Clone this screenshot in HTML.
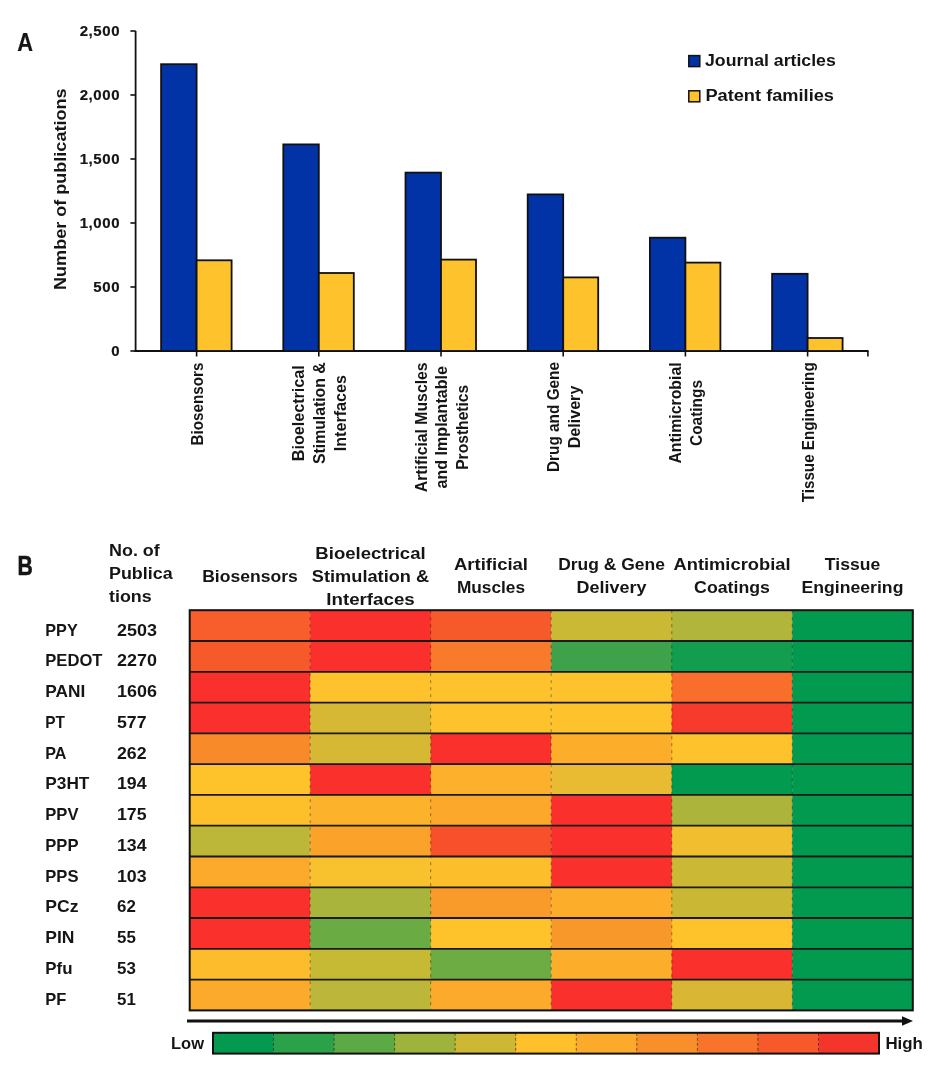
<!DOCTYPE html>
<html><head><meta charset="utf-8"><style>
html,body{margin:0;padding:0;background:#fff;width:936px;height:1066px;overflow:hidden}
svg{display:block}
text{font-family:"Liberation Sans", sans-serif;font-weight:bold;fill:#151515}
svg{will-change:transform}
</style></head><body>
<svg width="936" height="1066" viewBox="0 0 936 1066">

<text x="17.2" y="51" style="font-size:26.5px;stroke:#151515;stroke-width:0.2px" textLength="15.8" lengthAdjust="spacingAndGlyphs">A</text>
<line x1="135.6" y1="31.0" x2="135.6" y2="352.0" stroke="#111" stroke-width="1.8"/>
<line x1="130.4" y1="351.0" x2="135.6" y2="351.0" stroke="#111" stroke-width="1.6"/>
<text x="120.2" y="355.8" text-anchor="end" style="font-size:15px;letter-spacing:0.6px;stroke:#151515;stroke-width:0.2px">0</text>
<line x1="130.4" y1="287.0" x2="135.6" y2="287.0" stroke="#111" stroke-width="1.6"/>
<text x="120.2" y="291.8" text-anchor="end" style="font-size:15px;letter-spacing:0.6px;stroke:#151515;stroke-width:0.2px">500</text>
<line x1="130.4" y1="223.0" x2="135.6" y2="223.0" stroke="#111" stroke-width="1.6"/>
<text x="120.2" y="227.8" text-anchor="end" style="font-size:15px;letter-spacing:0.6px;stroke:#151515;stroke-width:0.2px">1,000</text>
<line x1="130.4" y1="159.0" x2="135.6" y2="159.0" stroke="#111" stroke-width="1.6"/>
<text x="120.2" y="163.8" text-anchor="end" style="font-size:15px;letter-spacing:0.6px;stroke:#151515;stroke-width:0.2px">1,500</text>
<line x1="130.4" y1="95.0" x2="135.6" y2="95.0" stroke="#111" stroke-width="1.6"/>
<text x="120.2" y="99.8" text-anchor="end" style="font-size:15px;letter-spacing:0.6px;stroke:#151515;stroke-width:0.2px">2,000</text>
<line x1="130.4" y1="31.0" x2="135.6" y2="31.0" stroke="#111" stroke-width="1.6"/>
<text x="120.2" y="35.8" text-anchor="end" style="font-size:15px;letter-spacing:0.6px;stroke:#151515;stroke-width:0.2px">2,500</text>
<line x1="134.6" y1="351.0" x2="868.5" y2="351.0" stroke="#111" stroke-width="1.8"/>
<line x1="196.6" y1="351.0" x2="196.6" y2="356.5" stroke="#111" stroke-width="1.6"/>
<line x1="318.8" y1="351.0" x2="318.8" y2="356.5" stroke="#111" stroke-width="1.6"/>
<line x1="441.0" y1="351.0" x2="441.0" y2="356.5" stroke="#111" stroke-width="1.6"/>
<line x1="563.2" y1="351.0" x2="563.2" y2="356.5" stroke="#111" stroke-width="1.6"/>
<line x1="685.4" y1="351.0" x2="685.4" y2="356.5" stroke="#111" stroke-width="1.6"/>
<line x1="807.6" y1="351.0" x2="807.6" y2="356.5" stroke="#111" stroke-width="1.6"/>
<line x1="867.9" y1="351.0" x2="867.9" y2="356.5" stroke="#111" stroke-width="1.6"/>
<rect x="161.1" y="64.2" width="35.5" height="286.8" fill="#0233A6" stroke="#111" stroke-width="1.8"/>
<rect x="196.6" y="260.3" width="35" height="90.7" fill="#FEC22D" stroke="#111" stroke-width="1.8"/>
<rect x="283.3" y="144.4" width="35.5" height="206.6" fill="#0233A6" stroke="#111" stroke-width="1.8"/>
<rect x="318.8" y="273.0" width="35" height="78.0" fill="#FEC22D" stroke="#111" stroke-width="1.8"/>
<rect x="405.5" y="172.6" width="35.5" height="178.4" fill="#0233A6" stroke="#111" stroke-width="1.8"/>
<rect x="441.0" y="259.6" width="35" height="91.4" fill="#FEC22D" stroke="#111" stroke-width="1.8"/>
<rect x="527.7" y="194.4" width="35.5" height="156.6" fill="#0233A6" stroke="#111" stroke-width="1.8"/>
<rect x="563.2" y="277.4" width="35" height="73.6" fill="#FEC22D" stroke="#111" stroke-width="1.8"/>
<rect x="649.9" y="237.7" width="35.5" height="113.3" fill="#0233A6" stroke="#111" stroke-width="1.8"/>
<rect x="685.4" y="262.6" width="35" height="88.4" fill="#FEC22D" stroke="#111" stroke-width="1.8"/>
<rect x="772.1" y="273.8" width="35.5" height="77.2" fill="#0233A6" stroke="#111" stroke-width="1.8"/>
<rect x="807.6" y="338.0" width="35" height="13.0" fill="#FEC22D" stroke="#111" stroke-width="1.8"/>
<text transform="translate(65.8,189.2) rotate(-90)" text-anchor="middle" style="font-size:17px" textLength="201.5" lengthAdjust="spacingAndGlyphs">Number of publications</text>
<rect x="688.8" y="55.6" width="11" height="11" fill="#0233A6" stroke="#111" stroke-width="1.5"/>
<rect x="688.8" y="90.8" width="11" height="11" fill="#FEC22D" stroke="#111" stroke-width="1.5"/>
<text x="705" y="66.3" style="font-size:16.8px" textLength="130.8" lengthAdjust="spacingAndGlyphs">Journal articles</text>
<text x="705.4" y="100.8" style="font-size:16.8px" textLength="128.6" lengthAdjust="spacingAndGlyphs">Patent families</text>
<text transform="translate(202.9,404.0) rotate(-90)" text-anchor="middle" style="font-size:17px" textLength="82.8" lengthAdjust="spacingAndGlyphs">Biosensors</text>
<text transform="translate(304.4,413.2) rotate(-90)" text-anchor="middle" style="font-size:17px" textLength="96" lengthAdjust="spacingAndGlyphs">Bioelectrical</text>
<text transform="translate(325.1,413.2) rotate(-90)" text-anchor="middle" style="font-size:17px" textLength="101.4" lengthAdjust="spacingAndGlyphs">Stimulation &amp;</text>
<text transform="translate(345.8,413.2) rotate(-90)" text-anchor="middle" style="font-size:17px" textLength="76.2" lengthAdjust="spacingAndGlyphs">Interfaces</text>
<text transform="translate(426.6,427.3) rotate(-90)" text-anchor="middle" style="font-size:17px" textLength="129.8" lengthAdjust="spacingAndGlyphs">Artificial Muscles</text>
<text transform="translate(447.3,427.3) rotate(-90)" text-anchor="middle" style="font-size:17px" textLength="122.5" lengthAdjust="spacingAndGlyphs">and Implantable</text>
<text transform="translate(468.0,427.3) rotate(-90)" text-anchor="middle" style="font-size:17px" textLength="85.1" lengthAdjust="spacingAndGlyphs">Prosthetics</text>
<text transform="translate(559.1,417.0) rotate(-90)" text-anchor="middle" style="font-size:17px" textLength="110.1" lengthAdjust="spacingAndGlyphs">Drug and Gene</text>
<text transform="translate(579.9,417.0) rotate(-90)" text-anchor="middle" style="font-size:17px" textLength="62.7" lengthAdjust="spacingAndGlyphs">Delivery</text>
<text transform="translate(681.3,413.0) rotate(-90)" text-anchor="middle" style="font-size:17px" textLength="101.2" lengthAdjust="spacingAndGlyphs">Antimicrobial</text>
<text transform="translate(702.0,413.0) rotate(-90)" text-anchor="middle" style="font-size:17px" textLength="65.9" lengthAdjust="spacingAndGlyphs">Coatings</text>
<text transform="translate(813.9,432.3) rotate(-90)" text-anchor="middle" style="font-size:17px" textLength="140" lengthAdjust="spacingAndGlyphs">Tissue Engineering</text>
<text x="17.6" y="575.4" style="font-size:27px;stroke:#151515;stroke-width:0.6px" textLength="15.3" lengthAdjust="spacingAndGlyphs">B</text>
<text x="109" y="556" style="font-size:16.8px" textLength="50.8" lengthAdjust="spacingAndGlyphs">No. of</text>
<text x="109" y="578.7" style="font-size:16.8px" textLength="63.6" lengthAdjust="spacingAndGlyphs">Publica</text>
<text x="109" y="601.6" style="font-size:16.8px" textLength="42.7" lengthAdjust="spacingAndGlyphs">tions</text>
<text x="250.0" y="581.8" text-anchor="middle" style="font-size:17.3px" textLength="95.6" lengthAdjust="spacingAndGlyphs">Biosensors</text>
<text x="370.5" y="559.0" text-anchor="middle" style="font-size:17.3px" textLength="110.3" lengthAdjust="spacingAndGlyphs">Bioelectrical</text>
<text x="370.5" y="581.8" text-anchor="middle" style="font-size:17.3px" textLength="117.3" lengthAdjust="spacingAndGlyphs">Stimulation &amp;</text>
<text x="370.5" y="604.6" text-anchor="middle" style="font-size:17.3px" textLength="88.5" lengthAdjust="spacingAndGlyphs">Interfaces</text>
<text x="491.0" y="570.4" text-anchor="middle" style="font-size:17.3px" textLength="74" lengthAdjust="spacingAndGlyphs">Artificial</text>
<text x="491.0" y="593.2" text-anchor="middle" style="font-size:17.3px">Muscles</text>
<text x="611.5" y="570.4" text-anchor="middle" style="font-size:17.3px" textLength="106.7" lengthAdjust="spacingAndGlyphs">Drug &amp; Gene</text>
<text x="611.5" y="593.2" text-anchor="middle" style="font-size:17.3px" textLength="69.8" lengthAdjust="spacingAndGlyphs">Delivery</text>
<text x="732.0" y="570.4" text-anchor="middle" style="font-size:17.3px" textLength="117" lengthAdjust="spacingAndGlyphs">Antimicrobial</text>
<text x="732.0" y="593.2" text-anchor="middle" style="font-size:17.3px" textLength="75.8" lengthAdjust="spacingAndGlyphs">Coatings</text>
<text x="852.5" y="570.4" text-anchor="middle" style="font-size:17.3px" textLength="55.3" lengthAdjust="spacingAndGlyphs">Tissue</text>
<text x="852.5" y="593.2" text-anchor="middle" style="font-size:17.3px" textLength="101.8" lengthAdjust="spacingAndGlyphs">Engineering</text>
<rect x="189.70" y="610.20" width="120.82" height="31.08" fill="#F75E2B"/>
<rect x="310.22" y="610.20" width="120.82" height="31.08" fill="#F9302B"/>
<rect x="430.73" y="610.20" width="120.82" height="31.08" fill="#F65A2A"/>
<rect x="551.25" y="610.20" width="120.82" height="31.08" fill="#C9B935"/>
<rect x="671.77" y="610.20" width="120.82" height="31.08" fill="#B2B53B"/>
<rect x="792.28" y="610.20" width="120.82" height="31.08" fill="#029A4F"/>
<text x="45.3" y="635.6" style="font-size:16.6px" textLength="32.4" lengthAdjust="spacingAndGlyphs">PPY</text>
<text x="117" y="635.6" style="font-size:16.6px" textLength="39.9" lengthAdjust="spacingAndGlyphs">2503</text>
<rect x="189.70" y="640.98" width="120.82" height="31.08" fill="#F65A2A"/>
<rect x="310.22" y="640.98" width="120.82" height="31.08" fill="#F9302B"/>
<rect x="430.73" y="640.98" width="120.82" height="31.08" fill="#F97A2A"/>
<rect x="551.25" y="640.98" width="120.82" height="31.08" fill="#3DA24A"/>
<rect x="671.77" y="640.98" width="120.82" height="31.08" fill="#139D4E"/>
<rect x="792.28" y="640.98" width="120.82" height="31.08" fill="#029A4F"/>
<text x="45.3" y="666.4" style="font-size:16.6px" textLength="57.2" lengthAdjust="spacingAndGlyphs">PEDOT</text>
<text x="117" y="666.4" style="font-size:16.6px" textLength="39.9" lengthAdjust="spacingAndGlyphs">2270</text>
<rect x="189.70" y="671.77" width="120.82" height="31.08" fill="#F9302B"/>
<rect x="310.22" y="671.77" width="120.82" height="31.08" fill="#FDC22C"/>
<rect x="430.73" y="671.77" width="120.82" height="31.08" fill="#FDC22C"/>
<rect x="551.25" y="671.77" width="120.82" height="31.08" fill="#FDC22C"/>
<rect x="671.77" y="671.77" width="120.82" height="31.08" fill="#F96E2A"/>
<rect x="792.28" y="671.77" width="120.82" height="31.08" fill="#029A4F"/>
<text x="45.3" y="697.1" style="font-size:16.6px" textLength="40" lengthAdjust="spacingAndGlyphs">PANI</text>
<text x="117" y="697.1" style="font-size:16.6px" textLength="39.9" lengthAdjust="spacingAndGlyphs">1606</text>
<rect x="189.70" y="702.55" width="120.82" height="31.08" fill="#F9302B"/>
<rect x="310.22" y="702.55" width="120.82" height="31.08" fill="#D6B835"/>
<rect x="430.73" y="702.55" width="120.82" height="31.08" fill="#FDC22C"/>
<rect x="551.25" y="702.55" width="120.82" height="31.08" fill="#FDC22C"/>
<rect x="671.77" y="702.55" width="120.82" height="31.08" fill="#F63A2B"/>
<rect x="792.28" y="702.55" width="120.82" height="31.08" fill="#029A4F"/>
<text x="45.3" y="727.9" style="font-size:16.6px" textLength="19.7" lengthAdjust="spacingAndGlyphs">PT</text>
<text x="117" y="727.9" style="font-size:16.6px" textLength="29.6" lengthAdjust="spacingAndGlyphs">577</text>
<rect x="189.70" y="733.34" width="120.82" height="31.08" fill="#F98A2A"/>
<rect x="310.22" y="733.34" width="120.82" height="31.08" fill="#D6B835"/>
<rect x="430.73" y="733.34" width="120.82" height="31.08" fill="#F9302B"/>
<rect x="551.25" y="733.34" width="120.82" height="31.08" fill="#FCAE2B"/>
<rect x="671.77" y="733.34" width="120.82" height="31.08" fill="#FDC22C"/>
<rect x="792.28" y="733.34" width="120.82" height="31.08" fill="#029A4F"/>
<text x="45.3" y="758.6" style="font-size:16.6px" textLength="21.2" lengthAdjust="spacingAndGlyphs">PA</text>
<text x="117" y="758.6" style="font-size:16.6px" textLength="29.6" lengthAdjust="spacingAndGlyphs">262</text>
<rect x="189.70" y="764.12" width="120.82" height="31.08" fill="#FEC22B"/>
<rect x="310.22" y="764.12" width="120.82" height="31.08" fill="#F9302B"/>
<rect x="430.73" y="764.12" width="120.82" height="31.08" fill="#FCB02B"/>
<rect x="551.25" y="764.12" width="120.82" height="31.08" fill="#E8BB33"/>
<rect x="671.77" y="764.12" width="120.82" height="31.08" fill="#029A4F"/>
<rect x="792.28" y="764.12" width="120.82" height="31.08" fill="#029A4F"/>
<text x="45.3" y="789.4" style="font-size:16.6px" textLength="44.1" lengthAdjust="spacingAndGlyphs">P3HT</text>
<text x="117" y="789.4" style="font-size:16.6px" textLength="29.6" lengthAdjust="spacingAndGlyphs">194</text>
<rect x="189.70" y="794.91" width="120.82" height="31.08" fill="#FDC02B"/>
<rect x="310.22" y="794.91" width="120.82" height="31.08" fill="#FCB22B"/>
<rect x="430.73" y="794.91" width="120.82" height="31.08" fill="#FBA82B"/>
<rect x="551.25" y="794.91" width="120.82" height="31.08" fill="#F9302B"/>
<rect x="671.77" y="794.91" width="120.82" height="31.08" fill="#ACB43B"/>
<rect x="792.28" y="794.91" width="120.82" height="31.08" fill="#029A4F"/>
<text x="45.3" y="820.1" style="font-size:16.6px" textLength="33.2" lengthAdjust="spacingAndGlyphs">PPV</text>
<text x="117" y="820.1" style="font-size:16.6px" textLength="29.6" lengthAdjust="spacingAndGlyphs">175</text>
<rect x="189.70" y="825.69" width="120.82" height="31.08" fill="#BDB739"/>
<rect x="310.22" y="825.69" width="120.82" height="31.08" fill="#FBA22B"/>
<rect x="430.73" y="825.69" width="120.82" height="31.08" fill="#F8502A"/>
<rect x="551.25" y="825.69" width="120.82" height="31.08" fill="#F9302B"/>
<rect x="671.77" y="825.69" width="120.82" height="31.08" fill="#F0BE2F"/>
<rect x="792.28" y="825.69" width="120.82" height="31.08" fill="#029A4F"/>
<text x="45.3" y="850.9" style="font-size:16.6px" textLength="33.2" lengthAdjust="spacingAndGlyphs">PPP</text>
<text x="117" y="850.9" style="font-size:16.6px" textLength="29.6" lengthAdjust="spacingAndGlyphs">134</text>
<rect x="189.70" y="856.48" width="120.82" height="31.08" fill="#FBAA2B"/>
<rect x="310.22" y="856.48" width="120.82" height="31.08" fill="#F8C12E"/>
<rect x="430.73" y="856.48" width="120.82" height="31.08" fill="#FDBE2C"/>
<rect x="551.25" y="856.48" width="120.82" height="31.08" fill="#F9302B"/>
<rect x="671.77" y="856.48" width="120.82" height="31.08" fill="#CBB834"/>
<rect x="792.28" y="856.48" width="120.82" height="31.08" fill="#029A4F"/>
<text x="45.3" y="881.6" style="font-size:16.6px" textLength="33.2" lengthAdjust="spacingAndGlyphs">PPS</text>
<text x="117" y="881.6" style="font-size:16.6px" textLength="29.6" lengthAdjust="spacingAndGlyphs">103</text>
<rect x="189.70" y="887.26" width="120.82" height="31.08" fill="#F9302B"/>
<rect x="310.22" y="887.26" width="120.82" height="31.08" fill="#A8B43B"/>
<rect x="430.73" y="887.26" width="120.82" height="31.08" fill="#F99B2A"/>
<rect x="551.25" y="887.26" width="120.82" height="31.08" fill="#FCAE2B"/>
<rect x="671.77" y="887.26" width="120.82" height="31.08" fill="#CAB834"/>
<rect x="792.28" y="887.26" width="120.82" height="31.08" fill="#029A4F"/>
<text x="45.3" y="912.4" style="font-size:16.6px" textLength="33.2" lengthAdjust="spacingAndGlyphs">PCz</text>
<text x="117" y="912.4" style="font-size:16.6px" textLength="18.8" lengthAdjust="spacingAndGlyphs">62</text>
<rect x="189.70" y="918.05" width="120.82" height="31.08" fill="#F9302B"/>
<rect x="310.22" y="918.05" width="120.82" height="31.08" fill="#6AAB43"/>
<rect x="430.73" y="918.05" width="120.82" height="31.08" fill="#FEC22B"/>
<rect x="551.25" y="918.05" width="120.82" height="31.08" fill="#F9982A"/>
<rect x="671.77" y="918.05" width="120.82" height="31.08" fill="#FEC22B"/>
<rect x="792.28" y="918.05" width="120.82" height="31.08" fill="#029A4F"/>
<text x="45.3" y="943.1" style="font-size:16.6px" textLength="29.2" lengthAdjust="spacingAndGlyphs">PIN</text>
<text x="117" y="943.1" style="font-size:16.6px" textLength="18.8" lengthAdjust="spacingAndGlyphs">55</text>
<rect x="189.70" y="948.83" width="120.82" height="31.08" fill="#FDBC2B"/>
<rect x="310.22" y="948.83" width="120.82" height="31.08" fill="#C6B934"/>
<rect x="430.73" y="948.83" width="120.82" height="31.08" fill="#6DAB43"/>
<rect x="551.25" y="948.83" width="120.82" height="31.08" fill="#FCAE2B"/>
<rect x="671.77" y="948.83" width="120.82" height="31.08" fill="#F9302B"/>
<rect x="792.28" y="948.83" width="120.82" height="31.08" fill="#029A4F"/>
<text x="45.3" y="973.9" style="font-size:16.6px" textLength="27.2" lengthAdjust="spacingAndGlyphs">Pfu</text>
<text x="117" y="973.9" style="font-size:16.6px" textLength="18.8" lengthAdjust="spacingAndGlyphs">53</text>
<rect x="189.70" y="979.62" width="120.82" height="31.08" fill="#FBAA2B"/>
<rect x="310.22" y="979.62" width="120.82" height="31.08" fill="#BCB73A"/>
<rect x="430.73" y="979.62" width="120.82" height="31.08" fill="#FBAA2B"/>
<rect x="551.25" y="979.62" width="120.82" height="31.08" fill="#F9302B"/>
<rect x="671.77" y="979.62" width="120.82" height="31.08" fill="#D9B735"/>
<rect x="792.28" y="979.62" width="120.82" height="31.08" fill="#029A4F"/>
<text x="45.3" y="1004.6" style="font-size:16.6px" textLength="21.1" lengthAdjust="spacingAndGlyphs">PF</text>
<text x="117" y="1004.6" style="font-size:16.6px" textLength="18.8" lengthAdjust="spacingAndGlyphs">51</text>
<line x1="310.2" y1="610.2" x2="310.2" y2="1010.4" stroke="#000" stroke-opacity="0.4" stroke-width="1" stroke-dasharray="3 4"/>
<line x1="430.7" y1="610.2" x2="430.7" y2="1010.4" stroke="#000" stroke-opacity="0.4" stroke-width="1" stroke-dasharray="3 4"/>
<line x1="551.2" y1="610.2" x2="551.2" y2="1010.4" stroke="#000" stroke-opacity="0.4" stroke-width="1" stroke-dasharray="3 4"/>
<line x1="671.8" y1="610.2" x2="671.8" y2="1010.4" stroke="#000" stroke-opacity="0.4" stroke-width="1" stroke-dasharray="3 4"/>
<line x1="792.3" y1="610.2" x2="792.3" y2="1010.4" stroke="#000" stroke-opacity="0.4" stroke-width="1" stroke-dasharray="3 4"/>
<line x1="189.7" y1="641.0" x2="912.8" y2="641.0" stroke="#1a1a1a" stroke-width="1.8"/>
<line x1="189.7" y1="671.8" x2="912.8" y2="671.8" stroke="#1a1a1a" stroke-width="1.8"/>
<line x1="189.7" y1="702.6" x2="912.8" y2="702.6" stroke="#1a1a1a" stroke-width="1.8"/>
<line x1="189.7" y1="733.3" x2="912.8" y2="733.3" stroke="#1a1a1a" stroke-width="1.8"/>
<line x1="189.7" y1="764.1" x2="912.8" y2="764.1" stroke="#1a1a1a" stroke-width="1.8"/>
<line x1="189.7" y1="794.9" x2="912.8" y2="794.9" stroke="#1a1a1a" stroke-width="1.8"/>
<line x1="189.7" y1="825.7" x2="912.8" y2="825.7" stroke="#1a1a1a" stroke-width="1.8"/>
<line x1="189.7" y1="856.5" x2="912.8" y2="856.5" stroke="#1a1a1a" stroke-width="1.8"/>
<line x1="189.7" y1="887.3" x2="912.8" y2="887.3" stroke="#1a1a1a" stroke-width="1.8"/>
<line x1="189.7" y1="918.0" x2="912.8" y2="918.0" stroke="#1a1a1a" stroke-width="1.8"/>
<line x1="189.7" y1="948.8" x2="912.8" y2="948.8" stroke="#1a1a1a" stroke-width="1.8"/>
<line x1="189.7" y1="979.6" x2="912.8" y2="979.6" stroke="#1a1a1a" stroke-width="1.8"/>
<rect x="189.7" y="610.2" width="723.1" height="400.2" fill="none" stroke="#111" stroke-width="2"/>
<line x1="187" y1="1021" x2="904" y2="1021" stroke="#111" stroke-width="3"/>
<path d="M902,1016.3 L913,1021 L902,1025.7 Z" fill="#111"/>
<rect x="213.00" y="1032.8" width="60.85" height="20.8" fill="#03994F"/>
<rect x="273.55" y="1032.8" width="60.85" height="20.8" fill="#2BA24A"/>
<rect x="334.09" y="1032.8" width="60.85" height="20.8" fill="#5BAA45"/>
<rect x="394.64" y="1032.8" width="60.85" height="20.8" fill="#9DB33B"/>
<rect x="455.18" y="1032.8" width="60.85" height="20.8" fill="#CDB733"/>
<rect x="515.73" y="1032.8" width="60.85" height="20.8" fill="#FEC12B"/>
<rect x="576.27" y="1032.8" width="60.85" height="20.8" fill="#FCAA2B"/>
<rect x="636.82" y="1032.8" width="60.85" height="20.8" fill="#F98F2A"/>
<rect x="697.36" y="1032.8" width="60.85" height="20.8" fill="#F8742A"/>
<rect x="757.91" y="1032.8" width="60.85" height="20.8" fill="#F65A2A"/>
<rect x="818.45" y="1032.8" width="60.85" height="20.8" fill="#F4352B"/>
<line x1="273.5" y1="1032.8" x2="273.5" y2="1053.6" stroke="#000" stroke-opacity="0.5" stroke-width="1" stroke-dasharray="3 2"/>
<line x1="334.1" y1="1032.8" x2="334.1" y2="1053.6" stroke="#000" stroke-opacity="0.5" stroke-width="1" stroke-dasharray="3 2"/>
<line x1="394.6" y1="1032.8" x2="394.6" y2="1053.6" stroke="#000" stroke-opacity="0.5" stroke-width="1" stroke-dasharray="3 2"/>
<line x1="455.2" y1="1032.8" x2="455.2" y2="1053.6" stroke="#000" stroke-opacity="0.5" stroke-width="1" stroke-dasharray="3 2"/>
<line x1="515.7" y1="1032.8" x2="515.7" y2="1053.6" stroke="#000" stroke-opacity="0.5" stroke-width="1" stroke-dasharray="3 2"/>
<line x1="576.3" y1="1032.8" x2="576.3" y2="1053.6" stroke="#000" stroke-opacity="0.5" stroke-width="1" stroke-dasharray="3 2"/>
<line x1="636.8" y1="1032.8" x2="636.8" y2="1053.6" stroke="#000" stroke-opacity="0.5" stroke-width="1" stroke-dasharray="3 2"/>
<line x1="697.4" y1="1032.8" x2="697.4" y2="1053.6" stroke="#000" stroke-opacity="0.5" stroke-width="1" stroke-dasharray="3 2"/>
<line x1="757.9" y1="1032.8" x2="757.9" y2="1053.6" stroke="#000" stroke-opacity="0.5" stroke-width="1" stroke-dasharray="3 2"/>
<line x1="818.5" y1="1032.8" x2="818.5" y2="1053.6" stroke="#000" stroke-opacity="0.5" stroke-width="1" stroke-dasharray="3 2"/>
<rect x="213" y="1032.8" width="666" height="20.8" fill="none" stroke="#111" stroke-width="2"/>
<text x="171" y="1048.9" style="font-size:16.5px">Low</text>
<text x="885.4" y="1048.5" style="font-size:16.9px">High</text>
</svg></body></html>
